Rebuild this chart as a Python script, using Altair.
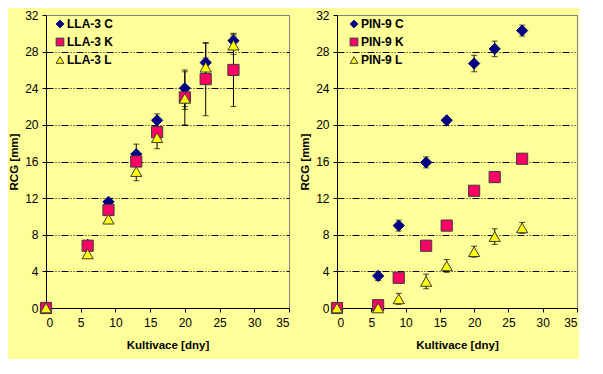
import altair as alt
import pandas as pd

days = [0, 6, 9, 13, 16, 20, 23, 27]

# LLA-3 panel
lla_names = ["LLA-3 C", "LLA-3 K", "LLA-3 L"]
lla_c = [0, 6.9, 11.6, 16.8, 20.5, 24.0, 26.8, 29.2]
lla_c_err = [0, 0.3, 0.3, 1.1, 0.7, 2.0, 2.1, 0.7]
lla_k = [0, 6.8, 10.7, 16.0, 19.2, 23.0, 25.0, 26.0]
lla_k_err = [0, 0.4, 0.4, 0.5, 0.5, 1.3, 4.0, 4.0]
lla_l = [0, 5.9, 9.7, 14.9, 18.6, 22.9, 26.3, 28.7]
lla_l_err = [0, 0.3, 0.4, 1.0, 1.2, 2.9, 1.0, 1.0]

# PIN-9 panel
pin_names = ["PIN-9 C", "PIN-9 K", "PIN-9 L"]
pin_c = [0, 3.5, 9.0, 15.9, 20.5, 26.7, 28.3, 30.3]
pin_c_err = [0, 0.5, 0.6, 0.6, 0.3, 0.9, 0.85, 0.6]
pin_k = [0, 0.3, 3.3, 6.8, 9.0, 12.8, 14.3, 16.3]
pin_k_err = [0, 0.2, 0.3, 0.3, 0.3, 0.4, 0.55, 0.3]
pin_l = [0, 0.0, 1.0, 2.9, 4.6, 6.15, 7.8, 8.75]
pin_l_err = [0, 0.0, 0.6, 0.8, 0.7, 0.6, 0.85, 0.6]

x_ticks = [0, 5, 10, 15, 20, 25, 30, 35]
y_ticks = [0, 4, 8, 12, 16, 20, 24, 28, 32]

fills = ["#000080", "#FF0066", "#FFFF00"]
strokes = ["#000080", "#3a3a3a", "#3a3a3a"]
shapes = ["diamond", "square", "triangle-up"]

BG = "#FFFF99"
FONT = "Liberation Sans"


def make_df(names, ys, errs):
    rows = []
    for name, y, e in zip(names, ys, errs):
        for d, v, ev in zip(days, y, e):
            rows.append({"series": name, "x": d, "y": v, "lo": v - ev, "hi": v + ev, "err": ev})
    return pd.DataFrame(rows)


def panel(names, ys, errs, w, h, lx, ly):
    df = make_df(names, ys, errs)
    dfe = df[df["err"] > 0]
    xs = alt.Scale(domain=[0, 35], nice=False)
    ysc = alt.Scale(domain=[0, 32], nice=False)
    xaxis = alt.Axis(values=x_ticks, title="Kultivace [dny]", grid=False, labelOverlap=False)
    yaxis = alt.Axis(
        values=y_ticks,
        title="RCG [mm]",
        grid=True,
        labelOverlap=False,
        gridColor={"condition": {"test": "datum.value >= 32", "value": "#808080"}, "value": "#000000"},
        gridDash={"condition": {"test": "datum.value >= 32", "value": [1, 0]}, "value": [7, 2, 1, 2, 1, 2]},
    )
    X = lambda f: alt.X(f, type="quantitative", scale=xs, axis=xaxis)
    Y = lambda f: alt.Y(f, type="quantitative", scale=ysc, axis=yaxis)
    rules = alt.Chart(dfe).mark_rule(color="black", strokeWidth=1).encode(
        x=X("x"), y=Y("lo"), y2="hi:Q"
    )
    cap_lo = alt.Chart(dfe).mark_tick(color="black", thickness=1, size=6, orient="horizontal").encode(
        x=X("x"), y=Y("lo")
    )
    cap_hi = alt.Chart(dfe).mark_tick(color="black", thickness=1, size=6, orient="horizontal").encode(
        x=X("x"), y=Y("hi")
    )
    legend = alt.Legend(
        title=None,
        orient="none",
        legendX=lx,
        legendY=ly,
        padding=0,
        rowPadding=6,
        symbolSize=60,
        labelFont=FONT,
        labelFontWeight="bold",
        labelFontSize=12,
        labelColor="#000000",
        symbolStrokeWidth=1,
        labelOffset=1,
    )
    pts = alt.Chart(df).mark_point(filled=True, size=125, opacity=1, fillOpacity=1, strokeWidth=1).encode(
        x=X("x"),
        y=Y("y"),
        fill=alt.Fill("series:N", scale=alt.Scale(domain=names, range=fills), legend=legend, sort=names),
        stroke=alt.Stroke("series:N", scale=alt.Scale(domain=names, range=strokes), legend=legend, sort=names),
        shape=alt.Shape("series:N", scale=alt.Scale(domain=names, range=shapes), legend=legend, sort=names),
    )
    return alt.layer(rules, cap_lo, cap_hi, pts).properties(width=w, height=h)


left = panel(lla_names, [lla_c, lla_k, lla_l], [lla_c_err, lla_k_err, lla_l_err], 243, 293, 8, 3)
right = panel(pin_names, [pin_c, pin_k, pin_l], [pin_c_err, pin_k_err, pin_l_err], 240, 293, 11, 3)

chart = (
    alt.hconcat(left, right, spacing=9)
    .resolve_scale(fill="independent", stroke="independent", shape="independent")
    .resolve_legend(fill="independent", stroke="independent", shape="independent")
    .properties(background=BG, padding={"left": 0, "top": 0, "right": 1, "bottom": 8})
    .configure_view(stroke="#808080", strokeWidth=1, fill=BG)
    .configure_axis(
        labelFont=FONT,
        labelFontSize=12,
        labelColor="#000000",
        titleFont=FONT,
        titleFontSize=11.5,
        titleFontWeight="bold",
        titleColor="#000000",
        domainColor="#000000",
        tickColor="#000000",
        tickSize=4,
        labelPadding=4,
    )
    .configure_axisX(titlePadding=11, labelPadding=5)
    .configure_axisY(titlePadding=5)
)

chart.save("out.html", embed_options={"renderer": "svg", "actions": False})
